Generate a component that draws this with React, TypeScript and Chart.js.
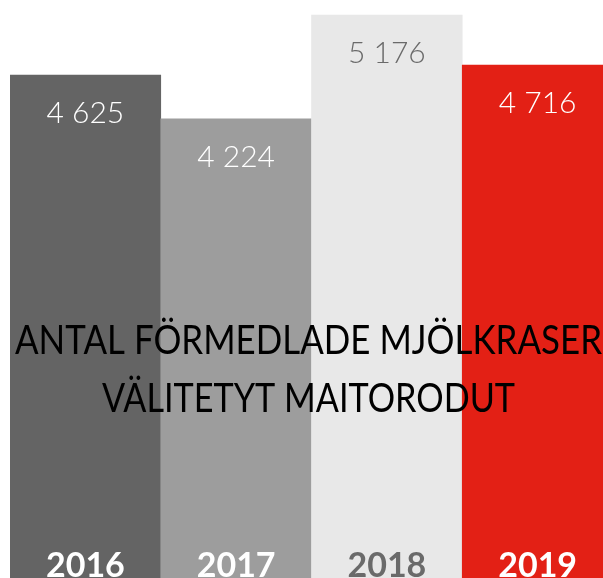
import React, { useEffect, useRef } from "react";
import { Chart, registerables } from "chart.js";

Chart.register(...registerables);

const categories = ["2016", "2017", "2018", "2019"];
const values = [4625, 4224, 5176, 4716];
const barColors = ["#646464", "#9d9d9d", "#e8e8e8", "#e32015"];
const valueLabelColors = ["#ffffff", "#ffffff", "#6a6a6a", "#ffffff"];
const yearLabelColors = ["#ffffff", "#ffffff", "#6a6a6a", "#ffffff"];
const titleLines = ["ANTAL FÖRMEDLADE MJÖLKRASER", "VÄLITETYT MAITORODUT"];
const yMax = 5240;

const formatValue = (v: number) =>
  String(v).replace(/\B(?=(\d{3})+(?!\d))/g, " ");

const labelPlugin = {
  id: "labelsAndTitle",
  afterDatasetsDraw(chart: any) {
    const ctx = chart.ctx as CanvasRenderingContext2D;
    const meta = chart.getDatasetMeta(0);
    ctx.save();
    ctx.textAlign = "center";
    ctx.textBaseline = "alphabetic";
    meta.data.forEach((bar: any, i: number) => {
      ctx.font = "300 30px Lato, 'Noto Sans', sans-serif";
      ctx.fillStyle = valueLabelColors[i];
      ctx.fillText(formatValue(values[i]), bar.x, bar.y + 48);
      ctx.font = "bold 34px Lato, 'Noto Sans', sans-serif";
      ctx.fillStyle = yearLabelColors[i];
      ctx.fillText(categories[i], bar.x, 577);
    });
    // title overlay
    const targets = [
      { cx: 308.5, base: 353.5, w: 587 },
      { cx: 308.5, base: 411.5, w: 413 },
    ];
    ctx.fillStyle = "#000000";
    ctx.font = "400 40px Lato, 'Noto Sans', sans-serif";
    titleLines.forEach((line, i) => {
      const t = targets[i];
      const mw = ctx.measureText(line).width;
      const sx = t.w / mw;
      ctx.save();
      ctx.translate(t.cx, t.base);
      ctx.scale(sx, 1);
      ctx.fillText(line, 0, 0);
      ctx.restore();
    });
    ctx.restore();
  },
};

export default function App() {
  const ref = useRef<HTMLCanvasElement | null>(null);
  useEffect(() => {
    if (!ref.current) return;
    const chart = new Chart(ref.current, {
      type: "bar",
      data: {
        labels: categories,
        datasets: [
          {
            data: values,
            backgroundColor: barColors,
            borderWidth: 0,
            barPercentage: 1,
            categoryPercentage: 1,
          },
        ],
      },
      options: {
        responsive: false,
        animation: false,
        layout: { padding: { left: 10, right: 7, top: 8, bottom: 0 } },
        plugins: {
          legend: { display: false },
          tooltip: { enabled: false },
          title: { display: false },
        },
        scales: {
          x: { display: false, grid: { display: false } },
          y: { display: false, min: 0, max: yMax, grid: { display: false } },
        },
      },
      plugins: [labelPlugin],
    });
    return () => chart.destroy();
  }, []);
  return (
    <div
      style={{
        position: "fixed",
        left: 0,
        top: 0,
        width: 603,
        height: 578,
        overflow: "hidden",
        background: "#ffffff",
      }}
    >
      <canvas
        ref={ref}
        width={620}
        height={580}
        style={{ position: "absolute", left: 0, top: 0, width: 620, height: 580 }}
      />
    </div>
  );
}
